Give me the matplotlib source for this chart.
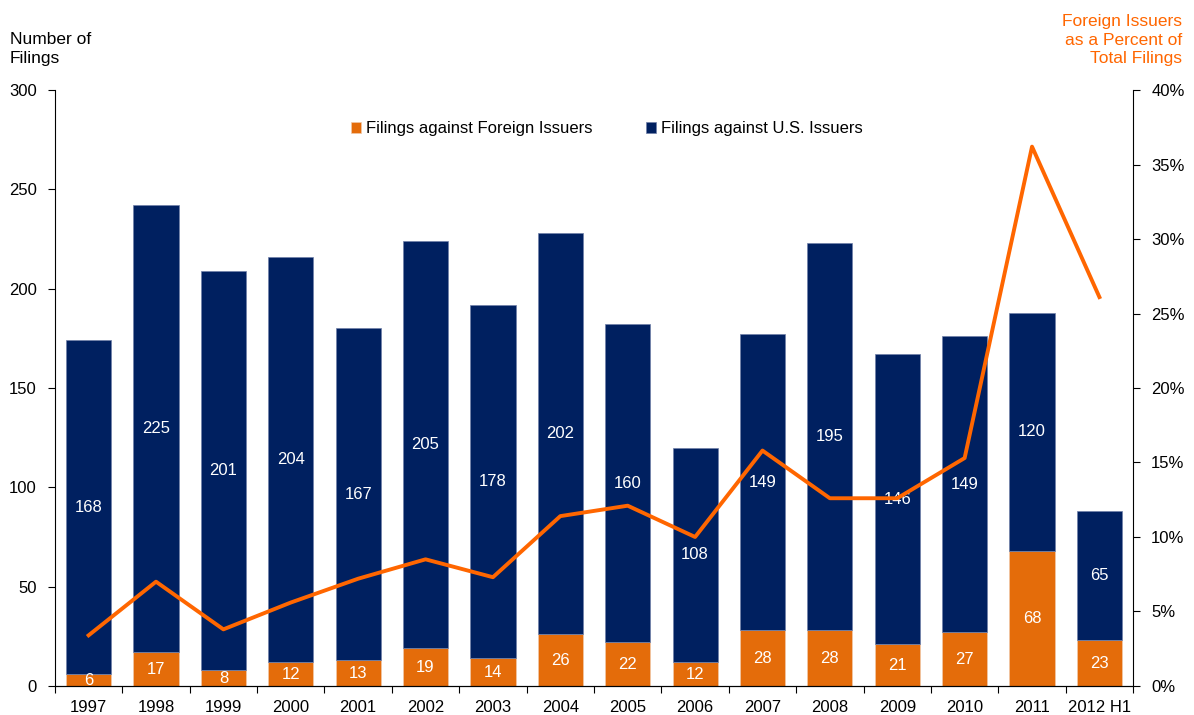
import matplotlib.pyplot as plt
import numpy as np

plt.rcParams['font.family'] = ['Liberation Sans', 'DejaVu Sans']

years = ['1997', '1998', '1999', '2000', '2001', '2002', '2003', '2004',
         '2005', '2006', '2007', '2008', '2009', '2010', '2011', '2012 H1']
foreign = [6, 17, 8, 12, 13, 19, 14, 26, 22, 12, 28, 28, 21, 27, 68, 23]
us = [168, 225, 201, 204, 167, 205, 178, 202, 160, 108, 149, 195, 146, 149, 120, 65]
pct_foreign = [3.4, 7.0, 3.8, 5.6, 7.2, 8.5, 7.3, 11.4, 12.1, 10.0, 15.8, 12.6,
               12.6, 15.3, 36.2, 26.1]

orange = '#E46C0A'
navy = '#002060'
line_orange = '#FF6600'

fig = plt.figure(figsize=(11.94, 7.15), dpi=100)
ax = fig.add_axes([0.046, 0.0406, 0.903, 0.8335])
x = np.arange(len(years))
w = 0.67

ax.bar(x, foreign, w, color=orange, edgecolor='#f0c8a8', linewidth=0.5,
       label='Filings against Foreign Issuers', zorder=2)
ax.bar(x, us, w, bottom=foreign, color=navy, edgecolor='#7080a8', linewidth=0.5,
       label='Filings against U.S. Issuers', zorder=2)

for i in range(len(years)):
    ax.text(x[i], foreign[i] / 2, str(foreign[i]), color='white', fontsize=12,
            ha='center', va='center', zorder=3)
    ax.text(x[i], foreign[i] + us[i] / 2, str(us[i]), color='white', fontsize=12,
            ha='center', va='center', zorder=3)

ax.set_xlim(-0.5, len(years) - 0.5)
ax.set_ylim(0, 300)
ax.set_yticks(range(0, 301, 50))
ax.set_xticks(np.arange(-0.5, len(years), 1.0))
ax.set_xticklabels([])
ax.set_xticks(x, minor=True)
ax.set_xticklabels(years, minor=True)
ax.tick_params(axis='x', which='major', direction='out', length=5)
ax.tick_params(axis='x', which='minor', length=0, labelsize=12, pad=10)
ax.tick_params(axis='y', direction='out', length=5, labelsize=12, pad=8)
ax.spines['top'].set_visible(False)
ax.spines['right'].set_visible(False)

ax2 = ax.twinx()
ax2.plot(x, pct_foreign, color=line_orange, linewidth=2.8, zorder=4)
ax2.set_ylim(0, 40)
ax2.set_yticks(range(0, 41, 5))
ax2.set_yticklabels([f'{v}%' for v in range(0, 41, 5)])
ax2.tick_params(axis='y', direction='out', length=5, labelsize=12, pad=8)
ax2.spines['top'].set_visible(False)
ax2.spines['left'].set_visible(False)

ax.legend(loc='upper center', bbox_to_anchor=(0.512, 0.973), ncol=2, frameon=False,
          fontsize=12, handlelength=0.6, handleheight=0.6, handletextpad=0.3,
          columnspacing=3.2)

fig.text(10 / 1194, 1 - 32 / 715, 'Number of\nFilings', fontsize=12.5,
         ha='left', va='top', linespacing=1.3)
fig.text(1182 / 1194, 1 - 14 / 715, 'Foreign Issuers\nas a Percent of\nTotal Filings',
         fontsize=12.5, color=line_orange, ha='right', va='top', multialignment='right',
         linespacing=1.3)

fig.savefig('out.png', dpi=100)
